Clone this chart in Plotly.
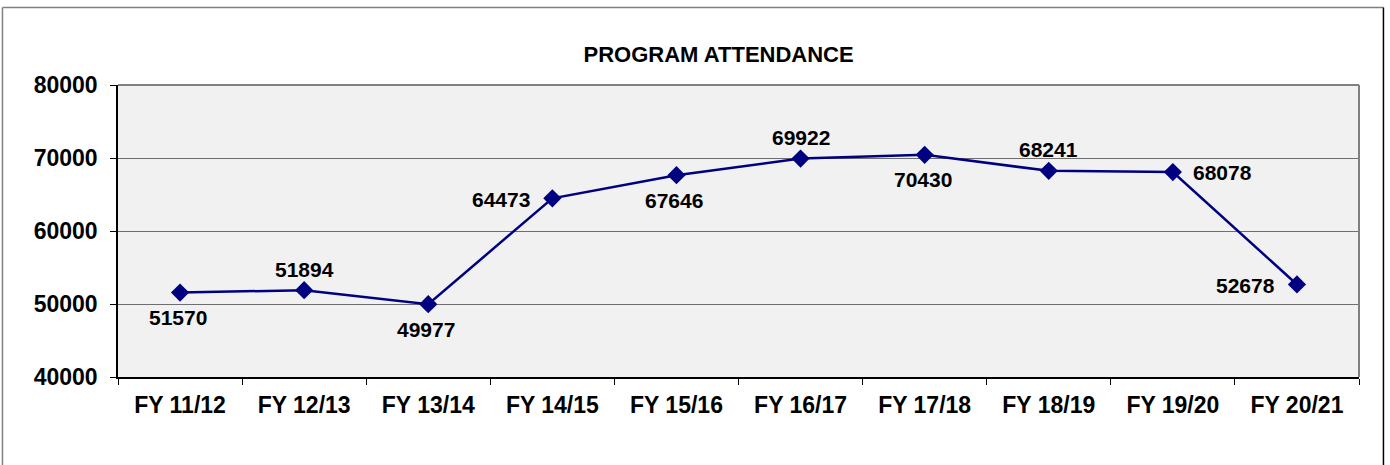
import plotly.graph_objects as go

years = ["FY 11/12", "FY 12/13", "FY 13/14", "FY 14/15", "FY 15/16",
         "FY 16/17", "FY 17/18", "FY 18/19", "FY 19/20", "FY 20/21"]
attendance = [51570, 51894, 49977, 64473, 67646, 69922, 70430, 68241, 68078, 52678]
y_ticks = [40000, 50000, 60000, 70000, 80000]

# where each value label sits relative to its marker
label_side = ["below", "above", "below", "left", "below",
              "above", "below", "above", "right", "left"]

FONT = "Arial, Liberation Sans, sans-serif"
NAVY = "#000080"

fig = go.Figure()

fig.add_trace(go.Scatter(
    x=years, y=attendance,
    mode="lines+markers",
    line=dict(color=NAVY, width=2.5),
    marker=dict(symbol="diamond", size=14, color=NAVY),
    showlegend=False,
    hoverinfo="x+y",
))

# value labels
offsets = {
    "below": dict(xanchor="center", yanchor="middle", xshift=-2, yshift=-25),
    "above": dict(xanchor="center", yanchor="middle", xshift=0, yshift=21),
    "left": dict(xanchor="right", yanchor="middle", xshift=-20, yshift=-1),
    "right": dict(xanchor="left", yanchor="middle", xshift=18, yshift=0),
}
for yr, v, side in zip(years, attendance, label_side):
    fig.add_annotation(x=yr, y=v, text=str(v), showarrow=False,
                       font=dict(family=FONT, size=21, color="black", weight="bold"),
                       **offsets[side])

# plot area top/right edge (grey) and outer chart frame
grey = "#808080"
fig.add_shape(type="line", xref="paper", yref="paper", x0=1, x1=1, y0=0, y1=1,
              line=dict(color=grey, width=2))
fig.add_shape(type="line", xref="paper", yref="paper", x0=0, x1=1, y0=1, y1=1,
              line=dict(color=grey, width=2))
fig.add_shape(type="line", xref="paper", yref="paper", x0=-0.0931, x1=-0.0931, y0=-0.35, y1=1.2654,
              line=dict(color=grey, width=1.5))
fig.add_shape(type="line", xref="paper", yref="paper", x0=-0.0931, x1=1.0197, y0=1.2654, y1=1.2654,
              line=dict(color=grey, width=1.5))
fig.add_shape(type="line", xref="paper", yref="paper", x0=1.0197, x1=1.0197, y0=-0.35, y1=1.2654,
              line=dict(color="black", width=1.5))

fig.update_layout(
    width=1390, height=465,
    paper_bgcolor="white",
    plot_bgcolor="#f1f1f1",
    font=dict(family=FONT, size=22, color="black", weight="bold"),
    title=dict(text="PROGRAM ATTENDANCE", x=0.517, xanchor="center",
               y=1 - 54 / 465, yanchor="middle",
               font=dict(family=FONT, size=22, color="black", weight="bold")),
    margin=dict(l=118, r=31, t=85, b=88),
    xaxis=dict(
        type="category", tickson="boundaries", range=[-0.5, 9.5],
        showgrid=False, showline=True, linecolor="black", linewidth=1.5,
        ticks="outside", ticklen=6, tickcolor="black", tickwidth=1,
        ticklabelstandoff=7,
        tickfont=dict(family=FONT, size=23, color="black", weight="bold"),
    ),
    yaxis=dict(
        range=[40000, 80000], tickvals=y_ticks, tickformat="d",
        showgrid=True, gridcolor="#6e6e6e", gridwidth=1,
        showline=True, linecolor="black", linewidth=1.5,
        ticks="outside", ticklen=6, tickcolor="black", tickwidth=1,
        ticklabelstandoff=8, zeroline=False,
        tickfont=dict(family=FONT, size=23, color="black", weight="bold"),
    ),
)

fig.write_html("out.html", config={"displayModeBar": False},
               post_script="document.body.style.margin='0';")
